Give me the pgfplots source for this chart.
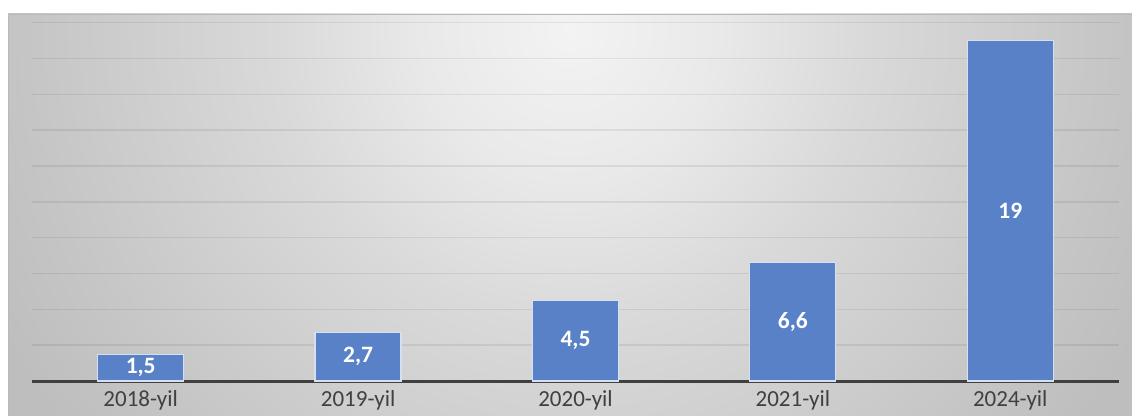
\documentclass[border=0pt]{standalone}
\usepackage{fontspec}
\setmainfont{Carlito}
\usepackage{pgfplots}
\usepackage{pgfplotstable}
\pgfplotsset{compat=1.18}
\definecolor{bblue}{RGB}{88,129,200}
\definecolor{bedge}{RGB}{215,224,240}
\definecolor{tick}{RGB}{64,64,64}
\definecolor{bg0}{RGB}{243,243,243}
\definecolor{bg1}{RGB}{233,233,233}
\definecolor{bg2}{RGB}{217,217,217}
\definecolor{bg3}{RGB}{197,197,197}
\definecolor{bg4}{RGB}{190,190,190}
\pgfdeclareradialshading{chartbg}{\pgfpoint{0bp}{0bp}}{color(0bp)=(bg0); color(3bp)=(bg1); color(6bp)=(bg2); color(11bp)=(bg3); color(13bp)=(bg4); color(50bp)=(bg4)}
\pgfplotstableread{
x y
0 1.5
1 2.7
2 4.5
3 6.6
4 19
}\bars
\pgfplotstableread{
x m lab
0 0.75 1,5
1 1.35 2,7
2 2.25 4,5
3 3.3 6,6
4 9.5 19
}\labs
\begin{document}
\begin{tikzpicture}
\begin{scope}
\clip (8pt,0pt) rectangle (1132pt,401pt);
\fill[bg4] (8pt,0pt) rectangle (1132pt,401pt);
\shade[shading=chartbg] (570pt,385pt) circle (1240pt);
\end{scope}
\draw[color=gray!55, line width=1pt] (8.5pt,-2pt) -- (8.5pt,400.5pt) -- (1134pt,400.5pt);
\begin{axis}[
  at={(32pt,34pt)}, anchor=south west,
  width=1087pt, height=358.3pt, scale only axis,
  xmin=-0.5, xmax=4.5, ymin=0, ymax=20,
  enlargelimits=false,
  axis line style={draw=none},
  xtick={0,1,2,3,4},
  xticklabels={2018-yil,2019-yil,2020-yil,2021-yil,2024-yil},
  ytick={2,4,...,20},
  yticklabels={},
  major tick length=0pt,
  ymajorgrids,
  grid style={line width=1.6pt, color=black, opacity=0.07},
  xticklabel style={font=\fontsize{23}{26}\selectfont, text=tick, inner sep=0pt, anchor=north, yshift=-9.5pt},
  clip=false,
]
\draw[color=tick, line width=3pt] (axis cs:-0.5,0) -- (axis cs:4.5,0);
\addplot[ybar, bar width=86pt, fill=bblue, draw=bedge, line width=1.2pt] table[x=x,y=y]{\bars};
\addplot[only marks, mark=none, point meta=explicit symbolic,
  nodes near coords,
  every node near coord/.append style={anchor=center, text=white, font=\fontsize{23.5}{26}\selectfont\bfseries}]
  table[x=x,y=m,meta=lab]{\labs};
\end{axis}
\pgfresetboundingbox
\path[use as bounding box] (0,0) rectangle (1132pt,415pt);
\end{tikzpicture}
\end{document}
